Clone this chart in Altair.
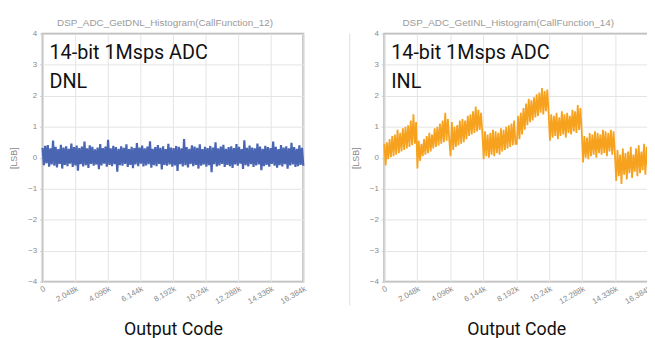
import altair as alt
import pandas as pd

# ---- data ----
FULL_SCALE = 16384
x_ticks = [0, 2048, 4096, 6144, 8192, 10240, 12288, 14336, 16384]
y_ticks = [-4, -3, -2, -1, 0, 1, 2, 3, 4]

dnl_values = [
    0.32, -0.24, 0.38, -0.18, 0.41, -0.29, 0.30, -0.22, 0.55, -0.26, 0.35, -0.31, 0.28, -0.20, 0.42, -0.35, 0.33, -0.23, 0.37, -0.27,
    0.29, -0.19, 0.46, -0.30, 0.34, -0.25, 0.39, -0.42, 0.31, -0.21, 0.36, -0.28, 0.52, -0.24, 0.30, -0.33, 0.40, -0.20, 0.35, -0.26,
    0.27, -0.22, 0.33, -0.37, 0.44, -0.25, 0.31, -0.19, 0.36, -0.29, 0.58, -0.23, 0.30, -0.27, 0.38, -0.21, 0.34, -0.45, 0.29, -0.24,
    0.37, -0.26, 0.32, -0.20, 0.43, -0.30, 0.28, -0.23, 0.35, -0.34, 0.31, -0.22, 0.47, -0.27, 0.33, -0.19, 0.39, -0.28, 0.30, -0.25,
    0.36, -0.21, 0.53, -0.32, 0.29, -0.24, 0.34, -0.27, 0.41, -0.20, 0.32, -0.38, 0.37, -0.23, 0.28, -0.26, 0.45, -0.22, 0.33, -0.29,
    0.31, -0.25, 0.38, -0.43, 0.35, -0.21, 0.30, -0.28, 0.60, -0.24, 0.34, -0.31, 0.29, -0.20, 0.40, -0.27, 0.36, -0.23, 0.32, -0.35,
    0.43, -0.26, 0.28, -0.22, 0.35, -0.29, 0.31, -0.24, 0.38, -0.47, 0.33, -0.21, 0.50, -0.28, 0.30, -0.25, 0.36, -0.20, 0.42, -0.30,
    0.29, -0.23, 0.34, -0.27, 0.37, -0.33, 0.31, -0.22, 0.44, -0.26, 0.35, -0.19, 0.28, -0.36, 0.56, -0.24, 0.32, -0.28, 0.39, -0.21,
    0.33, -0.30, 0.30, -0.25, 0.46, -0.22, 0.36, -0.40, 0.29, -0.27, 0.38, -0.23, 0.34, -0.29, 0.31, -0.20, 0.52, -0.26, 0.35, -0.32,
    0.28, -0.24, 0.41, -0.28, 0.33, -0.21, 0.37, -0.35, 0.30, -0.25, 0.48, -0.22, 0.34, -0.30, 0.29, -0.27, 0.40, -0.23, 0.32, -0.26,
]

inl_values = [
    # 0 .. 2.048k
    0.45, -0.25, 0.50, -0.05, 0.60, 0.02, 0.70, 0.05, 0.75, 0.10, 0.90, 0.15, 0.80, 0.20, 0.95, 0.25, 1.00, 0.30, 1.05, 0.35, 1.20, 0.40, 1.40, 0.45, 1.15,
    # 2.048k .. 4.096k
    -0.35, 0.55, -0.10, 0.45, 0.05, 0.60, 0.10, 0.70, 0.15, 0.80, 0.20, 0.75, 0.30, 0.95, 0.35, 1.00, 0.40, 1.10, 0.45, 1.20, 0.50, 1.45, 0.55, 1.25, 0.60,
    # 4.096k .. 6.144k
    0.05, 1.15, 0.25, 1.00, 0.35, 1.05, 0.40, 1.20, 0.45, 1.25, 0.50, 1.20, 0.60, 1.35, 0.70, 1.40, 0.75, 1.50, 0.80, 1.65, 0.85, 1.55, 0.90, 1.45, 0.80,
    # 6.144k .. 8.192k
    -0.05, 0.85, 0.05, 0.75, 0.00, 0.80, 0.10, 0.90, 0.05, 0.85, 0.15, 0.80, 0.10, 0.95, 0.20, 0.90, 0.25, 1.00, 0.30, 1.05, 0.35, 1.10, 0.40, 1.20, 0.45,
    # 8.192k .. 10.24k
    0.45, 1.35, 0.60, 1.45, 0.75, 1.60, 0.90, 1.75, 1.05, 1.90, 1.15, 1.85, 1.20, 1.95, 1.30, 2.05, 1.35, 2.10, 1.45, 2.25, 1.40, 2.15, 1.50, 2.20, 1.45,
    # 10.24k .. 12.288k
    0.55, 1.40, 0.65, 1.35, 0.70, 1.45, 0.60, 1.30, 0.70, 1.50, 0.75, 1.40, 0.65, 1.45, 0.80, 1.35, 0.75, 1.55, 0.85, 1.50, 0.80, 1.70, 0.90, 1.60, 0.85,
    # 12.288k .. 14.336k
    -0.15, 0.70, 0.00, 0.65, -0.05, 0.80, 0.05, 0.75, 0.10, 0.85, 0.00, 0.80, 0.15, 0.75, 0.10, 0.90, 0.15, 0.85, 0.05, 0.80, 0.20, 0.90, 0.10, 0.85, 0.15,
    # 14.336k .. 16.384k
    -0.75, 0.25, -0.60, 0.10, -0.85, 0.30, -0.55, 0.15, -0.70, 0.20, -0.50, 0.35, -0.65, 0.10, -0.45, 0.30, -0.60, 0.40, -0.50, 0.20, -0.40, 0.45, -0.55, 0.35, -0.35,
]

DNL_COLOR = "#4a66b3"
INL_COLOR = "#f7a21e"

LABEL_EXPR = "datum.value == 0 ? '0' : format(datum.value / 1000, '.3~f') + 'k'"


def panel(values, color, stroke_w, title, line2, width, height, border=False):
    n = len(values)
    df = pd.DataFrame({
        "code": [i * FULL_SCALE / (n - 1) for i in range(n)],
        "lsb": values,
    })
    x = alt.X(
        "code:Q",
        scale=alt.Scale(domain=[0, FULL_SCALE], nice=False, zero=False),
        axis=alt.Axis(
            values=x_ticks, labelExpr=LABEL_EXPR, labelAngle=-30,
            labelAlign="right", labelBaseline="top", labelFontSize=8,
            labelColor="#8a8a8a", labelFont="Liberation Sans", labelPadding=3,
            labelOverlap=False, labelFlush=False, labelBound=False,
            tickSize=0, domain=False, grid=True, gridColor="#e4e4e4",
            title="Output Code", titleFont="Roboto", titleFontSize=18,
            titleFontWeight="normal", titleColor="#111111", titlePadding=15,
        ),
    )
    y = alt.Y(
        "lsb:Q",
        scale=alt.Scale(domain=[-4, 4], nice=False, zero=False),
        axis=alt.Axis(
            values=y_ticks, labelFontSize=8, labelColor="#8a8a8a",
            labelFont="Liberation Sans", labelPadding=3, tickSize=3,
            tickColor="#cccccc", domain=False, grid=True, gridColor="#e4e4e4",
            title="[LSB]", titleFont="Liberation Sans", titleFontSize=9,
            titleFontWeight="normal", titleColor="#8a8a8a", titlePadding=9,
        ),
    )
    base = alt.Chart(df)
    line = base.mark_line(color=color, strokeWidth=stroke_w).encode(x=x, y=y)
    t1 = alt.Chart(pd.DataFrame({"t": ["14-bit 1Msps ADC"]})).mark_text(
        font="Roboto", fontSize=20, color="#111111", align="left", baseline="alphabetic"
    ).encode(text="t:N", x=alt.value(7), y=alt.value(26))
    t2 = alt.Chart(pd.DataFrame({"t": [line2]})).mark_text(
        font="Roboto", fontSize=20, color="#111111", align="left", baseline="alphabetic"
    ).encode(text="t:N", x=alt.value(7), y=alt.value(55))
    layers = [line, t1, t2]
    if border:
        rule = alt.Chart(pd.DataFrame({"a": [0]})).mark_rule(
            color="#dddddd", strokeWidth=1
        ).encode(x=alt.value(-35), y=alt.value(0), y2=alt.value(275))
        layers = [rule] + layers
    return alt.layer(*layers).properties(
        width=width, height=height,
        title=alt.TitleParams(
            title, font="Liberation Sans", fontSize=10, fontWeight="normal",
            color="#9a9a9a", anchor="middle", offset=2, dx=-8,
        ),
    )


left = panel(dnl_values, DNL_COLOR, 2.2, "DSP_ADC_GetDNL_Histogram(CallFunction_12)", "DNL", 264, 251)
right = panel(inl_values, INL_COLOR, 1.8, "DSP_ADC_GetINL_Histogram(CallFunction_14)", "INL", 267, 251, border=True)

chart = alt.hconcat(left, right, spacing=39).properties(
    padding={"left": 0, "top": 7, "right": -6, "bottom": 0},
    background="white",
).configure_view(stroke="#b4b4b4", strokeWidth=2)

chart.save("out.html", embed_options={"renderer": "svg", "actions": False})
